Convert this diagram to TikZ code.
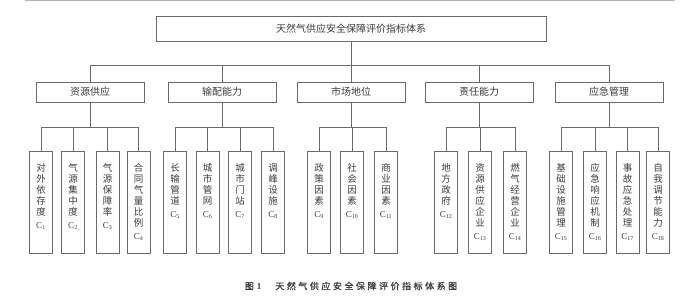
\documentclass[tikz,border=0pt]{standalone}
\usepackage{fontspec}
\setmainfont{Liberation Serif}
\newfontfamily\cjk{Noto Sans CJK SC}
\newfontfamily\cjkcap[LetterSpace=28,FakeBold=1]{Noto Sans CJK SC}
\definecolor{ln}{HTML}{6A6A6A}
\definecolor{tx}{HTML}{3C3C3C}
\definecolor{rule}{HTML}{B4B4B4}
\newcommand{\vtext}[2]{\parbox[c][78pt][t]{22pt}{\centering\cjk\fontsize{9.5}{11}\selectfont #1\\[2pt]{\rmfamily\fontsize{9}{11}\selectfont C\textsubscript{#2}}}}
\begin{document}
\begin{tikzpicture}[x=1pt,y=-1pt,
  box/.style={draw=ln, line width=0.8pt, rectangle, inner sep=0pt, text=tx},
  topbox/.style={box, minimum width=390pt, minimum height=25pt, font=\cjk\fontsize{10}{12}\selectfont},
  midbox/.style={box, minimum width=108pt, minimum height=20pt, font=\cjk\fontsize{10}{12}\selectfont},
  leaf/.style={box, minimum width=23pt, minimum height=102pt, anchor=north},
  link/.style={draw=ln, line width=0.8pt}]
\useasboundingbox (0,0) rectangle (700,304);
\draw[rule, line width=1pt] (25,0.8) -- (675,0.8);

\node[topbox] (top) at (351,28.5) {天然气供应安全保障评价指标体系};

\node[midbox] (m1) at (90,92) {资源供应};
\node[midbox] (m2) at (222,92) {输配能力};
\node[midbox] (m3) at (351,92) {市场地位};
\node[midbox] (m4) at (479,92) {责任能力};
\node[midbox] (m5) at (609,92) {应急管理};

\node[leaf] (c1) at (41,151) {\vtext{对\\外\\依\\存\\度}{1}};
\node[leaf] (c2) at (73,151) {\vtext{气\\源\\集\\中\\度}{2}};
\node[leaf] (c3) at (107.5,151) {\vtext{气\\源\\保\\障\\率}{3}};
\node[leaf] (c4) at (138.5,151) {\vtext{合\\同\\气\\量\\比\\例}{4}};

\node[leaf] (c5) at (175,151) {\vtext{长\\输\\管\\道}{5}};
\node[leaf] (c6) at (207.5,151) {\vtext{城\\市\\管\\网}{6}};
\node[leaf] (c7) at (240,151) {\vtext{城\\市\\门\\站}{7}};
\node[leaf] (c8) at (273,151) {\vtext{调\\峰\\设\\施}{8}};

\node[leaf] (c9) at (319,151) {\vtext{政\\策\\因\\素}{9}};
\node[leaf] (c10) at (352,151) {\vtext{社\\会\\因\\素}{10}};
\node[leaf] (c11) at (386,151) {\vtext{商\\业\\因\\素}{11}};

\node[leaf] (c12) at (446,151) {\vtext{地\\方\\政\\府}{12}};
\node[leaf] (c13) at (480,151) {\vtext{资\\源\\供\\应\\企\\业}{13}};
\node[leaf] (c14) at (515,151) {\vtext{燃\\气\\经\\营\\企\\业}{14}};

\node[leaf] (c15) at (561,151) {\vtext{基\\础\\设\\施\\管\\理}{15}};
\node[leaf] (c16) at (595,151) {\vtext{应\\急\\响\\应\\机\\制}{16}};
\node[leaf] (c17) at (627.5,151) {\vtext{事\\故\\应\\急\\处\\理}{17}};
\node[leaf] (c18) at (658,151) {\vtext{自\\我\\调\\节\\能\\力}{18}};

% level 1 -> level 2
\coordinate (bus1) at (0,65);
\draw[link] (top.south) -- (top.south |- bus1);
\draw[link] (m1.north |- bus1) -- (m5.north |- bus1);
\foreach \m in {m1,m2,m3,m4,m5} \draw[link] (\m.north) -- (\m.north |- bus1);

% level 2 -> level 3
\coordinate (bus2) at (0,127);
\draw[link] (m1.south) -- (m1.south |- bus2);
\draw[link] (c1.north |- bus2) -- (c4.north |- bus2);
\foreach \i in {1,2,3,4} \draw[link] (c\i.north) -- (c\i.north |- bus2);

\draw[link] (m2.south) -- (m2.south |- bus2);
\draw[link] (c5.north |- bus2) -- (c8.north |- bus2);
\foreach \i in {5,6,7,8} \draw[link] (c\i.north) -- (c\i.north |- bus2);

\draw[link] (m3.south) -- (m3.south |- bus2);
\draw[link] (c9.north |- bus2) -- (c11.north |- bus2);
\foreach \i in {9,10,11} \draw[link] (c\i.north) -- (c\i.north |- bus2);

\draw[link] (m4.south) -- (m4.south |- bus2);
\draw[link] (c12.north |- bus2) -- (c14.north |- bus2);
\foreach \i in {12,13,14} \draw[link] (c\i.north) -- (c\i.north |- bus2);

\draw[link] (m5.south) -- (m5.south |- bus2);
\draw[link] (c15.north |- bus2) -- (c18.north |- bus2);
\foreach \i in {15,16,17,18} \draw[link] (c\i.north) -- (c\i.north |- bus2);

\node[text=tx, inner sep=0pt] (cap) at (351,286) {{\cjkcap\fontsize{9}{11}\selectfont 图}\hspace{3pt}{\bfseries\fontsize{9}{11}\selectfont 1}\hspace{14pt}{\cjkcap\fontsize{9}{11}\selectfont 天然气供应安全保障评价指标体系图}};
\end{tikzpicture}
\end{document}
